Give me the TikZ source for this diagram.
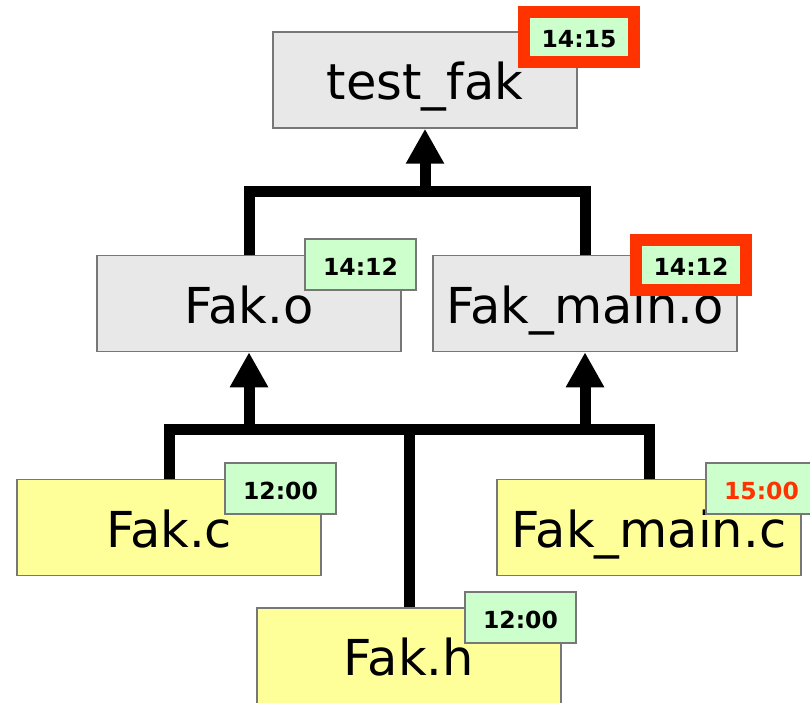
\documentclass[tikz,border=0pt]{standalone}
\usepackage{fontspec}
\setmainfont{DejaVu Sans}
\usetikzlibrary{arrows.meta}
\definecolor{boxgray}{HTML}{E8E8E8}
\definecolor{boxyellow}{HTML}{FFFF99}
\definecolor{labelgreen}{HTML}{CCFFCC}
\definecolor{edgegray}{HTML}{777777}
\definecolor{alertred}{HTML}{FF3300}
\tikzset{
  filebox/.style={draw=edgegray, line width=1.5pt, minimum width=304pt, minimum height=96pt, inner sep=0pt,
    text height=39pt, text depth=0pt, font=\fontsize{49.5}{58}\selectfont},
  objbox/.style={filebox, fill=boxgray},
  srcbox/.style={filebox, fill=boxyellow},
  stamp/.style={draw=edgegray, line width=1.2pt, fill=labelgreen, minimum width=111pt, minimum height=51pt,
    inner sep=0pt, text height=21pt, text depth=0pt, font=\fontsize{23.5}{28}\selectfont\bfseries},
  redstamp/.style={stamp, draw=alertred, line width=12pt, minimum width=110pt, minimum height=50pt},
  conn/.style={line width=11pt, black, line join=miter},
  uparrow/.style={conn, -{Triangle[width=36pt,length=35pt]}}
}
\begin{document}
\begin{tikzpicture}[x=1pt,y=-1pt]
\useasboundingbox (0,0) rectangle (810,703);
\clip (0,0) rectangle (810,703);
% boxes
\node[objbox] (tf)  at (425,80)    {test\_fak};
\node[objbox] (fo)  at (249,303.5) {Fak.o};
\node[objbox] (fmo) at (585,303.5) {Fak\_main.o};
\node[srcbox] (fc)  at (169,527.5) {Fak.c};
\node[srcbox] (fmc) at (649,527.5) {Fak\_main.c};
\node[srcbox] (fh)  at (409,656)   {Fak.h};
% time stamps
\node[redstamp] (ltf)  at (579,37)     {14:15};
\node[stamp]    (lfo)  at (360.5,264.5) {14:12};
\node[redstamp] (lfmo) at (691,265)    {14:12};
\node[stamp]    (lfc)  at (280.5,488.5) {12:00};
\node[stamp, text=alertred] (lfmc) at (761.5,488.5) {15:00};
\node[stamp]    (lfh)  at (520.5,617.5) {12:00};
% junctions
\coordinate (j1) at (425,192);
\coordinate (j2) at (409,429);
% upper connectors
\draw[conn] (fo.north) |- (j1) -| (fmo.north);
\draw[uparrow] (j1) -- (tf.south);
% lower connectors
\draw[conn] (fc.north) |- (j2) -| (fmc.north);
\draw[conn] (fh.north) -- (j2);
\draw[uparrow] (fo.south |- j2) -- (fo.south);
\draw[uparrow] (fmo.south |- j2) -- (fmo.south);
\end{tikzpicture}
\end{document}
